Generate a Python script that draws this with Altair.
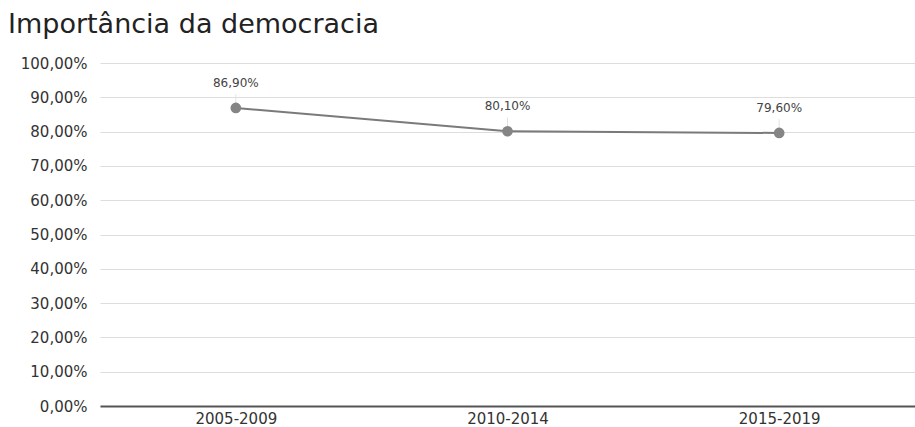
import altair as alt
import pandas as pd

periods = ["2005-2009", "2010-2014", "2015-2019"]
values = [86.9, 80.1, 79.6]

df = pd.DataFrame({"periodo": periods, "valor": values})

FONT = "DejaVu Sans"

x_enc = alt.X("periodo:N", sort=periods, title=None,
              scale=alt.Scale(type="point", padding=0.5),
              axis=alt.Axis(labelAngle=0, ticks=False, domainColor="#555555", domainWidth=2,
                            labelFontSize=15, labelColor="#333333", labelPadding=5,
                            labelFont=FONT))
y_enc = alt.Y("valor:Q", title=None,
              scale=alt.Scale(domain=[0, 100]),
              axis=alt.Axis(values=list(range(0, 101, 10)), domain=False, ticks=False,
                            gridColor="#dddddd", labelFontSize=15, labelColor="#333333",
                            labelPadding=13, labelFont=FONT,
                            labelExpr="replace(format(datum.value, '.2f'), '.', ',') + '%'"))

base = alt.Chart(df).encode(x=x_enc, y=y_enc)

leader = base.transform_calculate(top="datum.valor + 4").mark_rule(
    color="#e2e2e2", strokeWidth=1
).encode(y2="top:Q")
line = base.mark_line(color="#7a7a7a", strokeWidth=2)
points = base.mark_point(filled=True, size=115, color="#858585", opacity=1)
labels = base.transform_calculate(
    lab="replace(format(datum.valor, '.2f'), '.', ',') + '%'"
).mark_text(dy=-25, fontSize=12, color="#444444", font=FONT).encode(text="lab:N")

chart = (leader + line + points + labels).properties(
    width=815, height=343,
    autosize=alt.AutoSizeParams(type="none"),
    padding={"left": 100, "top": 63, "right": 0, "bottom": 21},
    title=alt.TitleParams("Importância da democracia", anchor="start", fontSize=27,
                          font=FONT, fontWeight="normal", color="#222222",
                          frame="group", dx=-92, offset=17),
).configure_view(stroke=None)

chart.save("out.html", embed_options={"renderer": "svg", "actions": False})
